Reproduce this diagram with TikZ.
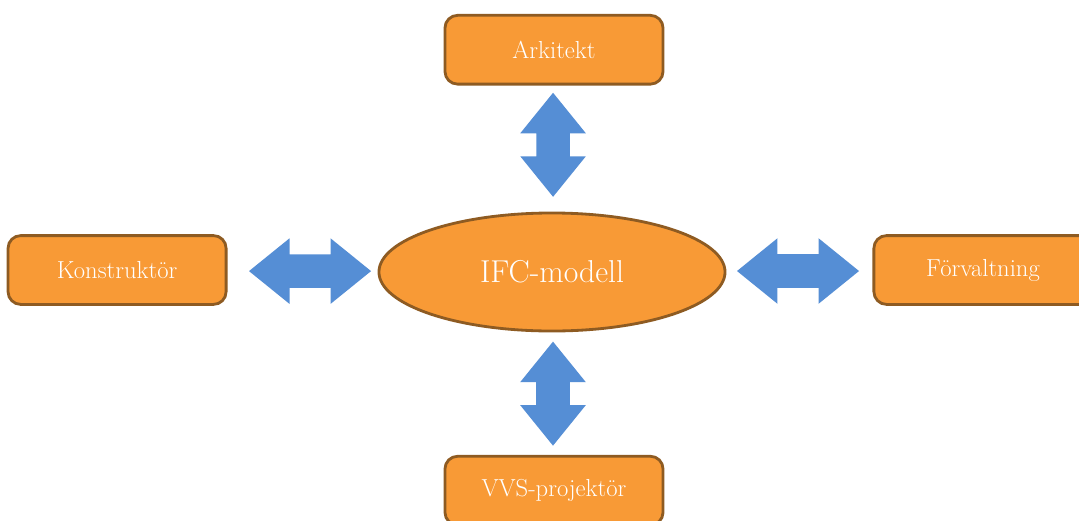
\documentclass[tikz,border=0pt]{standalone}
\usepackage{xcolor}
\usepackage{tikz}
\usetikzlibrary{positioning, shapes.geometric, shapes.arrows, calc}

\definecolor{boxfill}{HTML}{F89A36}
\definecolor{boxline}{HTML}{8E5B22}
\definecolor{linkblue}{HTML}{558ED5}

\begin{document}
\begin{tikzpicture}[
    x=0.025cm, y=-0.025cm,
    every node/.style={font=\fontsize{17.5}{20}\selectfont, text=white},
    role/.style={draw=boxline, fill=boxfill, line width=2pt, rounded corners=9pt, minimum width=5.45cm, minimum height=1.72cm, inner sep=0pt},
    hub/.style={ellipse, draw=boxline, fill=boxfill, line width=2pt, minimum width=8.65cm, minimum height=2.95cm, font=\fontsize{22.5}{26}\selectfont},
    bidir/.style={double arrow, fill=linkblue, inner xsep=0pt, inner ysep=0.4125cm, double arrow head extend=0.4cm, double arrow tip angle=78, double arrow head indent=0pt},
]

    % frame of the picture
    \clip (0,0) rectangle (1079,520);
    \fill[white] (0,0) rectangle (1079,520);

    % 1. Central model
    \node[hub] (ifc) at (552,272) {IFC-modell};

    % 2. Actors around it
    \node[role, above=3.15cm of ifc, xshift=0.05cm] (arkitekt) {Arkitekt};
    \node[role, left=3.75cm of ifc, yshift=0.05cm] (konstruktor) {Konstruktör};
    \node[role, right=3.65cm of ifc, yshift=0.05cm] (forvaltning) {Förvaltning};
    \node[role, below=3.06cm of ifc, xshift=0.05cm] (vvs) {VVS-projektör};

    % --- Exchange arrows ---
    \node[bidir, minimum height=2.6cm, rotate=90] (arr_top) at ($(arkitekt.south)!0.47!(ifc.north)$) {};
    \node[bidir, minimum height=3.05cm] (arr_left) at ($(konstruktor.east)!0.55!(ifc.west)$) {};
    \node[bidir, minimum height=3.05cm] (arr_right) at ($(ifc.east)!0.49!(forvaltning.west)$) {};
    \node[bidir, minimum height=2.6cm, rotate=90] (arr_bottom) at ($(ifc.south)!0.5!(vvs.north)$) {};

\end{tikzpicture}
\end{document}
